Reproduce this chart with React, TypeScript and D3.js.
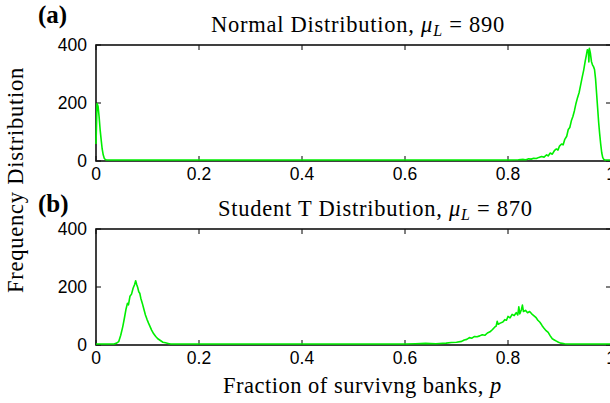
import React from "react";
import * as d3 from "d3";

// Panel (a): Normal distribution, mu_L = 890
const normalP = [0, 0.002, 0.004, 0.006, 0.008, 0.01, 0.012, 0.014, 0.016, 0.018, 0.02, 0.8, 0.82, 0.83, 0.835, 0.84, 0.845, 0.85, 0.855, 0.86, 0.865, 0.87, 0.875, 0.878, 0.882, 0.886, 0.89, 0.894, 0.897, 0.9, 0.904, 0.907, 0.91, 0.914, 0.917, 0.92, 0.923, 0.926, 0.929, 0.932, 0.935, 0.938, 0.941, 0.944, 0.947, 0.95, 0.952, 0.954, 0.956, 0.957, 0.958, 0.96, 0.962, 0.964, 0.966, 0.968, 0.97, 0.972, 0.974, 0.976, 0.978, 0.98, 0.982, 0.984, 0.986, 0.988, 1.0];
const normalV = [55, 195, 185, 150, 105, 70, 38, 18, 6, 2, 0, 0, 1, 2, 1, 4, 3, 6, 5, 9, 12, 10, 18, 14, 24, 20, 32, 38, 34, 48, 55, 52, 70, 82, 105, 112, 135, 150, 170, 195, 215, 232, 258, 285, 310, 342, 360, 380, 378, 338, 385, 368, 340, 328, 322, 312, 280, 230, 180, 130, 90, 55, 25, 8, 2, 0, 0];

// Panel (b): Student T distribution, mu_L = 870
const studentP = [0, 0.035, 0.04, 0.044, 0.048, 0.052, 0.055, 0.058, 0.061, 0.063, 0.066, 0.069, 0.072, 0.075, 0.077, 0.079, 0.081, 0.083, 0.085, 0.087, 0.09, 0.093, 0.096, 0.099, 0.102, 0.105, 0.108, 0.112, 0.116, 0.12, 0.125, 0.13, 0.135, 0.14, 0.145, 0.6, 0.62, 0.64, 0.66, 0.68, 0.69, 0.7, 0.71, 0.715, 0.72, 0.725, 0.73, 0.735, 0.74, 0.745, 0.75, 0.755, 0.76, 0.765, 0.77, 0.774, 0.777, 0.779, 0.781, 0.785, 0.79, 0.794, 0.797, 0.8, 0.804, 0.808, 0.812, 0.816, 0.819, 0.821, 0.823, 0.826, 0.828, 0.83, 0.834, 0.838, 0.842, 0.846, 0.85, 0.854, 0.858, 0.862, 0.866, 0.87, 0.874, 0.878, 0.882, 0.886, 0.89, 0.894, 0.898, 0.902, 0.91, 0.915, 1];
const studentV = [0, 0, 3, 8, 30, 60, 88, 118, 140, 135, 165, 172, 192, 205, 218, 205, 195, 180, 175, 158, 140, 120, 100, 85, 72, 60, 48, 35, 26, 18, 12, 6, 4, 2, 0, 0, 1, 2, 1, 3, 5, 6, 9, 14, 16, 22, 20, 26, 25, 28, 32, 30, 38, 42, 50, 58, 62, 78, 68, 72, 76, 84, 82, 95, 90, 102, 98, 108, 100, 128, 104, 118, 134, 112, 116, 108, 112, 104, 98, 92, 82, 75, 64, 54, 46, 40, 28, 18, 14, 10, 6, 3, 1, 0, 0];

const xTicks = [0, 0.2, 0.4, 0.6, 0.8, 1];
const xTickLabels = ["0", "0.2", "0.4", "0.6", "0.8", "1"];
const yTicks = [0, 200, 400];

const W = 610;
const H = 403;
const LEFT = 96;
const RIGHT = 611;
const SERIF = "'Liberation Serif', 'Times New Roman', serif";
const SANS = "'Liberation Sans', Arial, sans-serif";
const FS = 22.5;

type PanelProps = {
  top: number;
  bottom: number;
  ps: number[];
  vs: number[];
  label: string;
  labelY: number;
  titleMain: string;
  titleNum: string;
  titleX: number;
  titleY: number;
};

function Panel({ top, bottom, ps, vs, label, labelY, titleMain, titleNum, titleX, titleY }: PanelProps) {
  const x = d3.scaleLinear().domain([0, 1]).range([LEFT, RIGHT]);
  const y = d3.scaleLinear().domain([0, 400]).range([bottom, top]);
  const data = ps.map((p, i) => [p, vs[i]] as [number, number]);
  const line = d3
    .line<[number, number]>()
    .x((d) => x(d[0]))
    .y((d) => y(d[1]) - 1);
  const tl = 5;
  return (
    <g>
      <text x={38} y={labelY} fontFamily={SERIF} fontWeight="bold" fontSize={25} fill="#000">
        {label}
      </text>
      <text x={titleX} y={titleY} fontFamily={SERIF} fontSize={FS} letterSpacing={0.75} fill="#000">
        {titleMain}
        <tspan fontStyle="italic">μ</tspan>
        <tspan fontStyle="italic" fontSize={16} dy={4}>L</tspan>
        <tspan dy={-4}>{" = " + titleNum}</tspan>
      </text>
      {xTicks.map((t, i) => (
        <g key={"x" + i}>
          <line x1={x(t)} x2={x(t)} y1={bottom} y2={bottom - tl} stroke="#000" strokeWidth={1} />
          <line x1={x(t)} x2={x(t)} y1={top} y2={top + tl} stroke="#000" strokeWidth={1} />
          <text x={x(t)} y={bottom + 19} textAnchor="middle" fontFamily={SANS} fontSize={17.5} fill="#000">
            {xTickLabels[i]}
          </text>
        </g>
      ))}
      {yTicks.map((t, i) => (
        <g key={"y" + i}>
          <line x1={LEFT} x2={LEFT + tl} y1={y(t)} y2={y(t)} stroke="#000" strokeWidth={1} />
          <line x1={RIGHT} x2={RIGHT - tl} y1={y(t)} y2={y(t)} stroke="#000" strokeWidth={1} />
          <text x={87} y={y(t) + 6} textAnchor="end" fontFamily={SANS} fontSize={17.5} fill="#000">
            {String(t)}
          </text>
        </g>
      ))}
      <rect x={LEFT} y={top} width={RIGHT - LEFT} height={bottom - top} fill="none" stroke="#111" strokeWidth={1.6} />
      <path d={line(data) || ""} fill="none" stroke="#00ee00" strokeWidth={1.6} strokeLinejoin="round" />
    </g>
  );
}

export default function App() {
  return (
    <svg
      width={W}
      height={H}
      viewBox={`0 0 ${W} ${H}`}
      style={{ position: "absolute", left: 0, top: 0, background: "#fff" }}
    >
      <rect x={0} y={0} width={W} height={H} fill="#fff" />
      <Panel
        top={45}
        bottom={161}
        ps={normalP}
        vs={normalV}
        label="(a)"
        labelY={23}
        titleMain="Normal Distribution, "
        titleNum="890"
        titleX={211}
        titleY={32}
      />
      <Panel
        top={229}
        bottom={345}
        ps={studentP}
        vs={studentV}
        label="(b)"
        labelY={212}
        titleMain="Student T Distribution, "
        titleNum="870"
        titleX={218}
        titleY={216}
      />
      <text x={223} y={393} fontFamily={SERIF} fontSize={FS} letterSpacing={0.5} fill="#000">
        {"Fraction of survivng banks, "}
        <tspan fontStyle="italic">p</tspan>
      </text>
      <text
        transform="translate(23,180) rotate(-90)"
        textAnchor="middle"
        fontFamily={SERIF}
        fontSize={FS}
        letterSpacing={0.75}
        fill="#000"
      >
        Frequency Distribution
      </text>
    </svg>
  );
}
